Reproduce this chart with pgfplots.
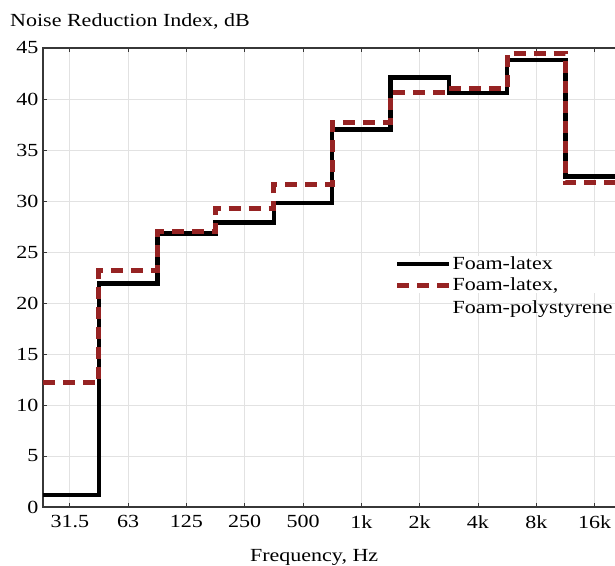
\documentclass[border=0pt]{standalone}
\usepackage{fontspec}
\setmainfont{Liberation Serif}[FakeStretch=1.19]
\usepackage{pgfplots}
\pgfplotsset{compat=1.18}
\definecolor{redd}{RGB}{150,35,35}
\definecolor{gridc}{RGB}{226,226,226}
\definecolor{axc}{RGB}{55,55,55}
\begin{document}
\begin{tikzpicture}[font=\fontsize{18.5}{22.5}\selectfont]
\begin{axis}[
  scale only axis, width=580.7pt, height=459pt,
  xmin=0.54, xmax=10.5, ymin=0, ymax=45,
  xtick={1,2,3,4,5,6,7,8,9,10},
  xticklabels={31.5,63,125,250,500,1k,2k,4k,8k,16k},
  ytick={0,5,10,15,20,25,30,35,40,45},
  grid=major, grid style={gridc, line width=0.8pt},
  axis line style={line width=1.8pt, axc},
  tick style={axc, line width=0.8pt}, major tick length=4pt,
  tick align=inside,
  clip=false,
  /pgf/number format/assume math mode=true,
  xticklabel style={yshift=-5pt},
  yticklabel style={xshift=-1pt},
  legend style={at={(rel axis cs:0.605,0.548)}, anchor=north west,
    draw=none, fill=white, inner sep=0pt, row sep=5pt,
    cells={anchor=west}, nodes={inner sep=1pt}},
  legend image code/.code={\draw[#1] (0pt,0pt) -- (52pt,0pt);},
]
\addplot[const plot, black, line width=4.5pt] coordinates {
 (0.54,1.2) (1.5,21.9) (2.5,26.8) (3.5,27.9) (4.5,29.8) (5.5,37.0)
 (6.5,42.1) (7.5,40.6) (8.5,43.8) (9.5,32.4) (10.5,32.4)};
\addlegendentry{Foam-latex}
\addplot[const plot, redd, line width=5pt, dash pattern=on 12pt off 8pt] coordinates {
 (0.54,12.2) (1.5,23.2) (2.5,27.0) (3.5,29.3) (4.5,31.6) (5.5,37.7)
 (6.5,40.6) (7.5,41.0) (8.5,44.5) (9.5,31.8) (10.5,31.8)};
\addlegendentry{\vtop{\baselineskip=23pt\hbox{Foam-latex,}\hbox{Foam-polystyrene}}}
\coordinate (A) at (rel axis cs:0,0);
\node[anchor=base west, inner sep=0pt] at ([xshift=-33pt,yshift=22pt]rel axis cs:0,1) {Noise Reduction Index, dB};
\node[anchor=base, inner sep=0pt] at ([yshift=-54pt]axis cs:5.19,0) {Frequency, Hz};
\end{axis}
\pgfresetboundingbox
\path[use as bounding box] (A) ++(-43pt,-58pt) rectangle ++(615pt,565pt);
\end{tikzpicture}
\end{document}
